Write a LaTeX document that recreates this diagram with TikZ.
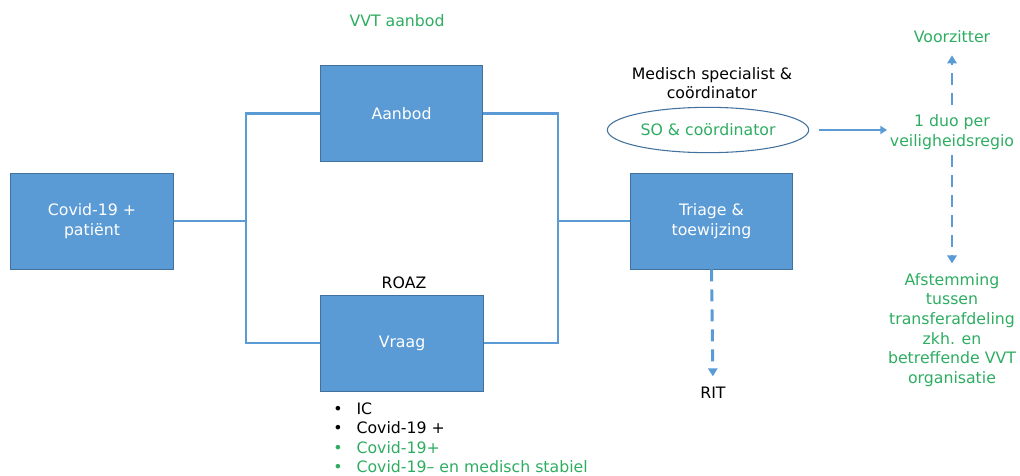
\documentclass[tikz,border=0pt]{standalone}
\usepackage{fontspec}
\setmainfont{DejaVu Sans}
\usetikzlibrary{shapes.geometric,arrows.meta}
\definecolor{boxblue}{HTML}{5B9BD5}
\definecolor{edgeblue}{HTML}{41719C}
\definecolor{txtgreen}{HTML}{2EAD62}
\tikzset{
  txt/.style={font=\fontsize{11.8}{14.8}\selectfont, align=center, inner sep=1pt},
  bluebox/.style={txt, rectangle, fill=boxblue, draw=edgeblue, line width=0.6pt,
    text=white, minimum width=122pt, minimum height=72pt},
  conn/.style={draw=boxblue, line width=2.2pt},
  dasharrow/.style={draw=boxblue, line width=2.2pt, dash pattern=on 9pt off 6pt,
    -{Triangle[width=7pt,length=6pt]}},
  solidarrow/.style={draw=boxblue, line width=1.8pt, -{Triangle[width=6pt,length=5pt]}},
  green/.style={text=txtgreen},
  bullet/.style={txt, anchor=base west, inner sep=0pt}
}
\newcommand{\bul}{\makebox[17.5pt][l]{•}}
\begin{document}
\begin{tikzpicture}[x=0.75pt,y=-0.75pt]
\useasboundingbox (0,0) rectangle (1020,475);
% boxes
\node[bluebox] (covid) at (92,221) {Covid-19 +\\patiënt};
\node[bluebox] (aanbod) at (401.5,113.5) {Aanbod};
\node[bluebox] (vraag) at (402,343) {Vraag};
\node[bluebox] (triage) at (711.5,221) {Triage \&\\toewijzing};
\node[txt, ellipse, draw=edgeblue, line width=0.8pt, minimum width=151pt, minimum height=34pt, text=txtgreen] (so) at (708,130) {SO \& coördinator};
% labels
\node[txt, green] (vvt) at (397,21) {VVT aanbod};
\node[txt] (roaz) at (404,283) {ROAZ};
\node[txt] (med) at (712,83) {Medisch specialist \&\\coördinator};
\node[txt] (rit) at (713,393) {RIT};
\node[txt, green] (voorz) at (952,37) {Voorzitter};
\node[txt, green] (duo) at (952,132) {1 duo per\\veiligheidsregio};
\node[txt, green] (afst) at (952,330) {Afstemming\\tussen\\transferafdeling\\zkh. en\\betreffende VVT\\organisatie};
% bullet list
\node[bullet] (b1) at (333,414) {\bul IC};
\node[bullet] (b2) at (333,433.5) {\bul Covid-19 +};
\node[bullet, green] (b3) at (333,453) {\bul Covid-19+};
\node[bullet, green] (b4) at (333,472) {\bul Covid-19– en medisch stabiel};
% connectors
\coordinate (jl) at (246,221);
\coordinate (jr) at (558,221);
\draw[conn] (covid.east) -- (jl);
\draw[conn] (aanbod.west) -| (jl) |- (vraag.west);
\draw[conn] (aanbod.east) -| (jr) |- (vraag.east);
\draw[conn] (jr) -- (triage.west);
\draw[dasharrow, shorten >=7pt] (triage.south) -- (rit.north);
\draw[solidarrow, shorten <=7pt, shorten >=1pt] (so.east) -- (so.east -| duo.west);
\draw[dasharrow, shorten <=6pt, shorten >=8pt] (duo.north) -- (voorz.south);
\draw[dasharrow, shorten <=3pt, shorten >=6pt] (duo.south) -- (afst.north);
\end{tikzpicture}
\end{document}
